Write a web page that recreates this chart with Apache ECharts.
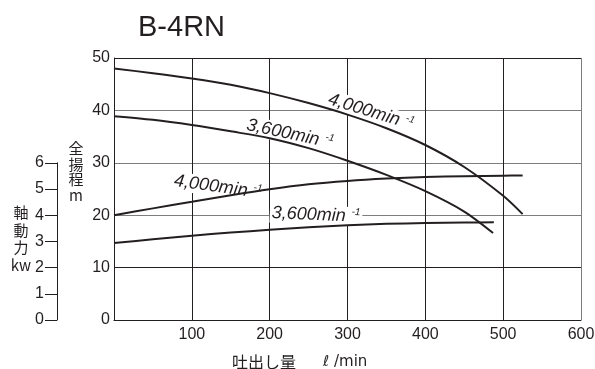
<!DOCTYPE html>
<html>
<head>
<meta charset="utf-8">
<script src="https://cdn.jsdelivr.net/npm/echarts@6.0.0/dist/echarts.min.js"></script>
<style>
html, body { margin: 0; padding: 0; background: #fff; }
#chart { width: 595px; height: 369px; }
</style>
</head>
<body>
<div id="chart"></div>
<script>
// 吐出し量 l/min と 全揚程 m
const flowHead4000 = [0, 50, 100, 150, 200, 250, 300, 350, 400, 450, 500, 525];
const head4000 = [48.0, 47.1, 46.1, 44.9, 43.3, 41.4, 39.2, 36.6, 33.4, 29.2, 23.7, 20.2];
const flowHead3600 = [0, 50, 100, 150, 200, 250, 300, 350, 400, 450, 487];
const head3600 = [38.9, 38.2, 37.2, 36.0, 34.7, 32.8, 30.4, 27.7, 24.6, 20.7, 16.6];

// 軸動力 kW
const flowPow4000 = [0, 50, 100, 150, 200, 250, 300, 350, 400, 450, 500, 525];
const power4000 = [4.00, 4.26, 4.51, 4.76, 4.99, 5.18, 5.31, 5.40, 5.46, 5.49, 5.51, 5.52];
const flowPow3600 = [0, 50, 100, 150, 200, 250, 300, 350, 400, 450, 488];
const power3600 = [2.94, 3.08, 3.22, 3.34, 3.44, 3.54, 3.62, 3.67, 3.70, 3.72, 3.73];

const flowTicks = [0, 100, 200, 300, 400, 500, 600];
const headTicks = [0, 10, 20, 30, 40, 50];
const powerTicks = [0, 1, 2, 3, 4, 5, 6];

const INK = '#231f20';
const GRAY = '#7d7d7d';
const FONT = '"Liberation Sans", Arial, sans-serif';
const CJK = '"Noto Sans CJK JP", sans-serif';

const pairs = (xs, ys) => xs.map((x, i) => [x, ys[i]]);

const chart = echarts.init(document.getElementById('chart'));

// 曲線ラベル (回転テキスト)
function curveLabel(text, x, y, deg) {
  return {
    type: 'text',
    x: x,
    y: y,
    rotation: -deg * Math.PI / 180,
    z: 1,
    style: {
      text: '{a|' + text + '}{b|  -1}',
      align: 'center',
      verticalAlign: 'middle',
      backgroundColor: '#fff',
      padding: [0, 2, 0, 2],
      rich: {
        a: { fontFamily: FONT, fontStyle: 'italic', fontSize: 18, lineHeight: 19, fill: INK },
        b: { fontFamily: FONT, fontStyle: 'italic', fontSize: 10, lineHeight: 19, verticalAlign: 'top', fill: INK }
      }
    }
  };
}

const option = {
  animation: false,
  backgroundColor: '#fff',
  grid: [
    { left: 114, top: 58, width: 467, height: 262, outerBoundsMode: 'none' },
    { left: 57, top: 162.8, width: 1, height: 157.2, outerBoundsMode: 'none' }
  ],
  xAxis: [
    {
      type: 'value', gridIndex: 0,
      min: flowTicks[0], max: flowTicks[flowTicks.length - 1], interval: 100,
      axisLine: { show: true, lineStyle: { color: INK, width: 1 } },
      axisTick: { show: false },
      axisLabel: {
        margin: 7, color: INK, fontFamily: FONT, fontSize: 16,
        formatter: v => (v === 0 ? '' : String(v))
      },
      splitLine: { show: true, lineStyle: { color: [INK, INK, INK, INK, INK, INK, GRAY], width: 1 } }
    },
    { type: 'value', gridIndex: 1, show: false, min: 0, max: 1 }
  ],
  yAxis: [
    {
      type: 'value', gridIndex: 0,
      min: headTicks[0], max: headTicks[headTicks.length - 1], interval: 10,
      axisLine: { show: true, lineStyle: { color: INK, width: 1 } },
      axisTick: { show: false },
      axisLabel: { margin: 4, color: INK, fontFamily: FONT, fontSize: 16 },
      splitLine: { show: true, lineStyle: { color: [INK, INK, GRAY, GRAY, GRAY, INK], width: 1 } }
    },
    {
      // 軸動力用 (非表示, 10kW = 50m)
      type: 'value', gridIndex: 0, show: false, min: 0, max: 10
    },
    {
      type: 'value', gridIndex: 1,
      min: powerTicks[0], max: powerTicks[powerTicks.length - 1], interval: 1,
      axisLine: { show: true, lineStyle: { color: INK, width: 1 } },
      axisTick: { show: true, length: 12, lineStyle: { color: INK, width: 1 } },
      axisLabel: { margin: 13, color: INK, fontFamily: FONT, fontSize: 16 },
      splitLine: { show: false }
    }
  ],
  series: [
    { name: 'head4000', type: 'line', xAxisIndex: 0, yAxisIndex: 0, data: pairs(flowHead4000, head4000) },
    { name: 'head3600', type: 'line', xAxisIndex: 0, yAxisIndex: 0, data: pairs(flowHead3600, head3600) },
    { name: 'power4000', type: 'line', xAxisIndex: 0, yAxisIndex: 1, data: pairs(flowPow4000, power4000) },
    { name: 'power3600', type: 'line', xAxisIndex: 0, yAxisIndex: 1, data: pairs(flowPow3600, power3600) }
  ].map(s => Object.assign(s, {
    smooth: 0.3,
    showSymbol: false,
    symbol: 'none',
    lineStyle: { color: INK, width: 2 },
    silent: true
  })),
  graphic: [
    {
      type: 'text', left: 138, top: 13,
      style: { text: 'B-4RN', fontFamily: FONT, fontSize: 29, fill: INK }
    },
    {
      type: 'text', x: 76, y: 141, style: {
        text: '全\n揚\n程\nm', align: 'center', fontFamily: CJK, fontSize: 15, lineHeight: 15.5, fill: INK
      }
    },
    {
      type: 'text', x: 21, y: 204, style: {
        text: '軸\n動\n力\nkw', align: 'center', fontFamily: CJK, fontSize: 15, lineHeight: 17.5, fill: INK
      }
    },
    {
      type: 'text', x: 232, y: 362, style: {
        text: '吐出し量', verticalAlign: 'middle', fontFamily: CJK, fontSize: 16, fill: INK
      }
    },
    {
      type: 'text', x: 323, y: 362, style: {
        text: 'ℓ /min', verticalAlign: 'middle', fontFamily: '"DejaVu Sans", sans-serif', fontSize: 15, fill: INK
      }
    },
    curveLabel('4,000min', 371, 112, 17),
    curveLabel('3,600min', 290, 134, 12),
    curveLabel('4,000min', 218, 187, 8),
    curveLabel('3,600min', 316, 215, 2.5)
  ]
};

chart.setOption(option);

window.addEventListener('resize', () => {
  chart.resize();
});
</script>
</body>
</html>
